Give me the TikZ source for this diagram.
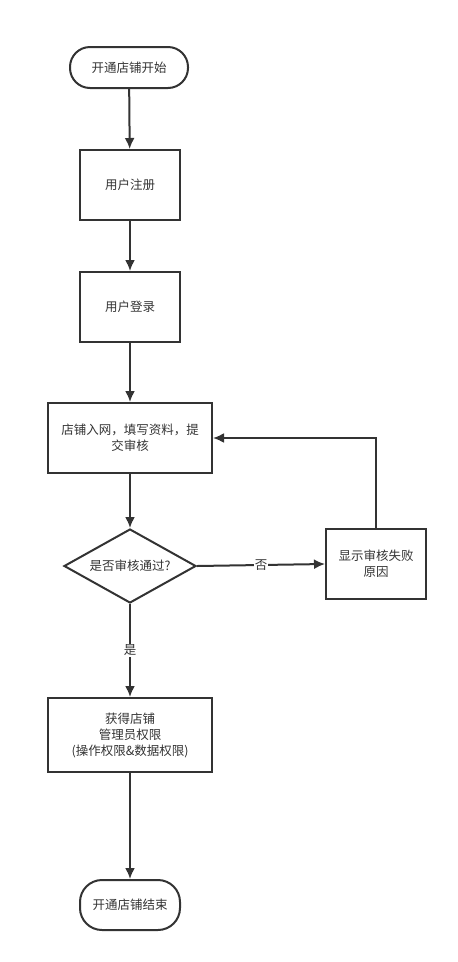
\documentclass[tikz,border=0pt]{standalone}
\usepackage{fontspec}
\setmainfont{Noto Sans CJK SC}
\usetikzlibrary{shapes.geometric,arrows.meta}
\definecolor{myGray}{HTML}{333333}

\begin{document}
\begin{tikzpicture}[x=1pt, y=-1pt, >={Latex[length=11pt,width=10pt]}, line width=2pt, ->, myGray]

  \tikzstyle{T}=[rectangle,rounded corners=20pt,draw=myGray,text=myGray,inner sep=2pt,font=\fontsize{12.5}{16}\selectfont]
  \tikzstyle{P}=[rectangle,draw=myGray,text=myGray,inner sep=2pt,align=center,font=\fontsize{12.5}{16}\selectfont]
  \tikzstyle{D}=[diamond,aspect=1.78,draw=myGray,text=myGray,inner sep=0pt,minimum width=132pt,minimum height=74pt,font=\fontsize{12.5}{16}\selectfont]
  \tikzstyle{L}=[fill=white,text=myGray,inner sep=1pt,font=\fontsize{12.5}{16}\selectfont]

  \useasboundingbox (0,0) rectangle (458,962);

  \node[T, minimum width=118pt, minimum height=41pt] at (129,67.5) (start) {开通店铺开始};
  \node[P, minimum width=100pt, minimum height=70pt] at (130,185) (register) {用户注册};
  \node[P, minimum width=100pt, minimum height=70pt] at (130,307) (login) {用户登录};
  \node[P, minimum width=164pt, minimum height=70pt] at (130,438) (submit) {店铺入网，填写资料，提\\交审核};
  \node[D] at (130,566) (check) {是否审核通过?};
  \node[P, minimum width=100pt, minimum height=70pt] at (376,564) (fail) {显示审核失败\\原因};
  \node[P, minimum width=164pt, minimum height=74pt] at (130,735) (grant) {获得店铺\\管理员权限\\(操作权限\&数据权限)};
  \node[T, minimum width=100pt, minimum height=50pt, rounded corners=22pt] at (130,905) (finish) {开通店铺结束};

  \draw (start) -- (register);
  \draw (register) -- (login);
  \draw (login) -- (submit);
  \draw (submit) -- (check);
  \draw (check.east) -- node[L, pos=0.5] {否} (fail.west);
  \draw (fail.north) |- (submit.east);
  \draw (check) -- node[L, pos=0.5] {是} (grant);
  \draw (grant) -- (finish);

\end{tikzpicture}
\end{document}
